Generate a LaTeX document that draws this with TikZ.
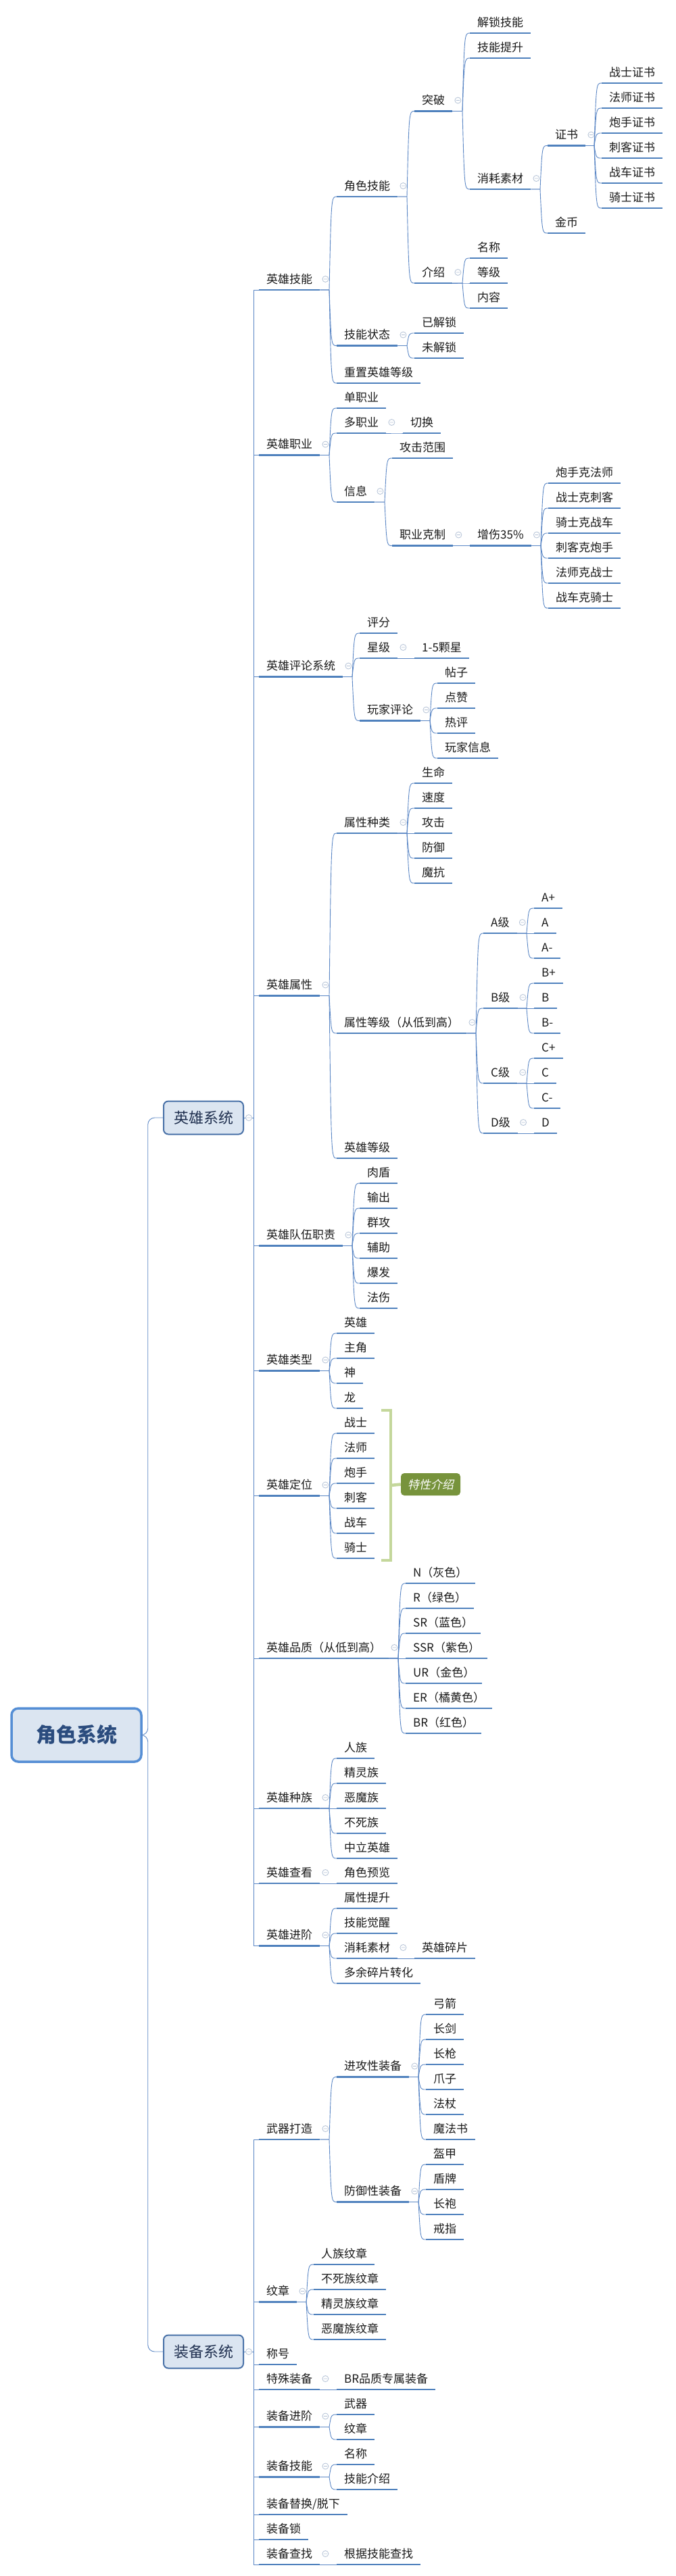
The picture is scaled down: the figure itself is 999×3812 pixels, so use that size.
\documentclass[tikz,border=0pt]{standalone}
\usepackage{fontspec}
\setmainfont{Noto Sans CJK SC}
\newfontfamily\itcjk[FakeSlant=0.2]{Noto Sans CJK SC}
\usetikzlibrary{calc}
\definecolor{ulc}{HTML}{4F81BD}
\definecolor{cnc}{HTML}{5B87C5}
\definecolor{boxfill}{HTML}{DBE5F1}
\definecolor{rootdraw}{HTML}{558ED5}
\definecolor{l1draw}{HTML}{4A72A8}
\definecolor{roottext}{HTML}{2B4C7E}
\definecolor{l1text}{HTML}{1F2F4F}
\definecolor{tgc}{HTML}{B4C2D6}
\definecolor{brkc}{HTML}{C4D79B}
\definecolor{sumfill}{HTML}{77933C}
\definecolor{txt}{HTML}{1A1A1A}
\newcommand\fs{\fontsize{17pt}{20pt}\selectfont}
\tikzset{
  nd/.style={anchor=south west, inner xsep=11pt, inner ysep=5.5pt, text height=13pt, text depth=4pt, font=\fs, text=txt},
  ul/.style={draw=ulc, line width=2.6pt},
  cn/.style={draw=cnc, line width=0.9pt},
  tgs/.style={draw=tgc, line width=0.8pt, fill=white},
  rootbox/.style={draw=rootdraw, line width=3.5pt, fill=boxfill, rounded corners=10pt, minimum width=192pt, minimum height=79pt, inner sep=0pt, font=\fontsize{30pt}{34pt}\selectfont\bfseries, text=roottext},
  l1box/.style={draw=l1draw, line width=2pt, fill=boxfill, rounded corners=7pt, minimum width=118pt, minimum height=49pt, inner sep=0pt, font=\fontsize{22pt}{26pt}\selectfont, text=l1text},
  brk/.style={draw=brkc, line width=4.5pt},
  sumbox/.style={fill=sumfill, rounded corners=5pt, minimum width=88pt, minimum height=33pt, inner sep=0pt, font=\itcjk\fs, text=white}
}
\newcommand\N[4]{\node[nd] (#1) at (#2,#3) {#4}; \draw[ul] (#1.south west) -- (#1.south east);}
\newcommand\tg[1]{\draw[tgs] ($(#1.south east)+(8,-16)$) circle[radius=4.5pt] +(-2.5,0) -- +(2.5,0);}
\newcommand\C[2]{\foreach \ch in {#2}{\draw[cn] (#1.south east) -- ($(#1.south east -| \ch.south west)+(-11,0)$) .. controls ($(\ch.south west)+(-8,0)$) and ($(\ch.south west)+(-8,0)$) .. (\ch.south west);}\tg{#1}}
\newcommand\E[2]{\foreach \ch in {#2}{\draw[cn] (#1.east) -- ++(14,0) |- (\ch.south west);}}
\begin{document}
\begin{tikzpicture}[x=1pt,y=-1pt]
\fill[white] (0,0) rectangle (999,3812);
\useasboundingbox (0,0) rectangle (999,3812);

% root and level 1
\node[rootbox] (root) at (113,2567.5) {角色系统};
\node[l1box] (hero) at (301,1654) {英雄系统};
\node[l1box] (equip) at (301,3480) {装备系统};

% ===== 英雄系统 =====
\N{a1}{383}{429}{英雄技能}
\N{a11}{498}{291}{角色技能}
\N{a111}{613}{164.5}{突破}
\N{a1111}{695}{49}{解锁技能}
\N{a1112}{695}{86}{技能提升}
\N{a1113}{695}{280}{消耗素材}
\N{zs}{810}{215.5}{证书}
\N{jb}{810}{345}{金币}
\N{zs1}{890}{123}{战士证书}
\N{zs2}{890}{160}{法师证书}
\N{zs3}{890}{197}{炮手证书}
\N{zs4}{890}{234}{刺客证书}
\N{zs5}{890}{271}{战车证书}
\N{zs6}{890}{308}{骑士证书}
\N{a112}{613}{419}{介绍}
\N{a1121}{695}{382}{名称}
\N{a1122}{695}{419}{等级}
\N{a1123}{695}{456}{内容}
\N{a12}{498}{511.5}{技能状态}
\N{a121}{613}{493}{已解锁}
\N{a122}{613}{530}{未解锁}
\N{a13}{498}{567}{重置英雄等级}

\N{b}{383}{673.5}{英雄职业}
\N{b1}{498}{604}{单职业}
\N{b2}{498}{641}{多职业}
\N{b21}{596}{641}{切换}
\N{b3}{498}{743}{信息}
\N{b31}{580}{678}{攻击范围}
\N{b32}{580}{807.5}{职业克制}
\N{b321}{695}{807.5}{增伤35\%}
\N{k1}{811}{715}{炮手克法师}
\N{k2}{811}{752}{战士克刺客}
\N{k3}{811}{789}{骑士克战车}
\N{k4}{811}{826}{刺客克炮手}
\N{k5}{811}{863}{法师克战士}
\N{k6}{811}{900}{战车克骑士}

\N{c}{383}{1001.5}{英雄评论系统}
\N{c1}{532}{937}{评分}
\N{c2}{532}{974}{星级}
\N{c21}{613}{974}{1-5颗星}
\N{c3}{532}{1066.5}{玩家评论}
\N{c31}{647}{1011}{帖子}
\N{c32}{647}{1048}{点赞}
\N{c33}{647}{1085}{热评}
\N{c34}{647}{1122}{玩家信息}

\N{d}{383}{1473.5}{英雄属性}
\N{d1}{498}{1233}{属性种类}
\N{d11}{613}{1159}{生命}
\N{d12}{613}{1196}{速度}
\N{d13}{613}{1233}{攻击}
\N{d14}{613}{1270}{防御}
\N{d15}{613}{1307}{魔抗}
\N{d2}{498}{1529}{属性等级（从低到高）}
\N{dA}{715}{1381}{A级}
\N{dB}{715}{1492}{B级}
\N{dC}{715}{1603}{C级}
\N{dD}{715}{1677}{D级}
\N{dA1}{790}{1344}{A+}
\N{dA2}{790}{1381}{A}
\N{dA3}{790}{1418}{A-}
\N{dB1}{790}{1455}{B+}
\N{dB2}{790}{1492}{B}
\N{dB3}{790}{1529}{B-}
\N{dC1}{790}{1566}{C+}
\N{dC2}{790}{1603}{C}
\N{dC3}{790}{1640}{C-}
\N{dD1}{790}{1677}{D}
\N{d3}{498}{1714}{英雄等级}

\N{f}{383}{1843.5}{英雄队伍职责}
\N{f1}{532}{1751}{肉盾}
\N{f2}{532}{1788}{输出}
\N{f3}{532}{1825}{群攻}
\N{f4}{532}{1862}{辅助}
\N{f5}{532}{1899}{爆发}
\N{f6}{532}{1936}{法伤}

\N{g}{383}{2028.5}{英雄类型}
\N{g1}{498}{1973}{英雄}
\N{g2}{498}{2010}{主角}
\N{g3}{498}{2047}{神}
\N{g4}{498}{2084}{龙}

\N{h}{383}{2213.5}{英雄定位}
\N{h1}{498}{2121}{战士}
\N{h2}{498}{2158}{法师}
\N{h3}{498}{2195}{炮手}
\N{h4}{498}{2232}{刺客}
\N{h5}{498}{2269}{战车}
\N{h6}{498}{2306}{骑士}

\N{q}{383}{2454}{英雄品质（从低到高）}
\N{q1}{600}{2343}{N（灰色）}
\N{q2}{600}{2380}{R（绿色）}
\N{q3}{600}{2417}{SR（蓝色）}
\N{q4}{600}{2454}{SSR（紫色）}
\N{q5}{600}{2491}{UR（金色）}
\N{q6}{600}{2528}{ER（橘黄色）}
\N{q7}{600}{2565}{BR（红色）}

\N{r}{383}{2676}{英雄种族}
\N{r1}{498}{2602}{人族}
\N{r2}{498}{2639}{精灵族}
\N{r3}{498}{2676}{恶魔族}
\N{r4}{498}{2713}{不死族}
\N{r5}{498}{2750}{中立英雄}

\N{s}{383}{2787}{英雄查看}
\N{s1}{498}{2787}{角色预览}

\N{t}{383}{2879.5}{英雄进阶}
\N{t1}{498}{2824}{属性提升}
\N{t2}{498}{2861}{技能觉醒}
\N{t3}{498}{2898}{消耗素材}
\N{t31}{613}{2898}{英雄碎片}
\N{t4}{498}{2935}{多余碎片转化}

% ===== 装备系统 =====
\N{u}{383}{3166}{武器打造}
\N{u1}{498}{3073.5}{进攻性装备}
\N{u11}{630}{2981}{弓箭}
\N{u12}{630}{3018}{长剑}
\N{u13}{630}{3055}{长枪}
\N{u14}{630}{3092}{爪子}
\N{u15}{630}{3129}{法杖}
\N{u16}{630}{3166}{魔法书}
\N{u2}{498}{3258.5}{防御性装备}
\N{u21}{630}{3203}{盔甲}
\N{u22}{630}{3240}{盾牌}
\N{u23}{630}{3277}{长袍}
\N{u24}{630}{3314}{戒指}

\N{v}{383}{3406.5}{纹章}
\N{v1}{464}{3351}{人族纹章}
\N{v2}{464}{3388}{不死族纹章}
\N{v3}{464}{3425}{精灵族纹章}
\N{v4}{464}{3462}{恶魔族纹章}

\N{w}{383}{3499}{称号}
\N{ww}{383}{3536}{特殊装备}
\N{ww1}{498}{3536}{BR品质专属装备}
\N{y1}{383}{3591.5}{装备进阶}
\N{y11}{498}{3573}{武器}
\N{y12}{498}{3610}{纹章}
\N{y2}{383}{3665.5}{装备技能}
\N{y21}{498}{3647}{名称}
\N{y22}{498}{3684}{技能介绍}
\N{y3}{383}{3721}{装备替换/脱下}
\N{y4}{383}{3758}{装备锁}
\N{y5}{383}{3795}{装备查找}
\N{y51}{498}{3795}{根据技能查找}

% summary bracket
\coordinate (bt) at (564,2087);
\coordinate (bb) at (564,2309);
\node[sumbox] (sum) at (637,2196.5) {特性介绍};
\draw[brk] (bt) -- ($(bt)+(14,0)$) -- ($(bb)+(14,0)$) -- (bb);
\draw[brk] ($(bt)!0.5!(bb)+(14,0)$) -- (sum.west);

% connectors
\draw[cn,rounded corners=10pt] (root.east) -- ++(8,0) |- (hero.west);
\draw[cn,rounded corners=10pt] (root.east) -- ++(8,0) |- (equip.west);
\E{hero}{a1,b,c,d,f,g,h,q,r,s,t}
\E{equip}{u,v,w,ww,y1,y2,y3,y4,y5}
\draw[tgs] ($(hero.east)+(7,0)$) circle[radius=4.5pt] +(-2.5,0) -- +(2.5,0);
\draw[tgs] ($(equip.east)+(7,0)$) circle[radius=4.5pt] +(-2.5,0) -- +(2.5,0);

\C{a1}{a11,a12,a13}
\C{a11}{a111,a112}
\C{a111}{a1111,a1112,a1113}
\C{a1113}{zs,jb}
\C{zs}{zs1,zs2,zs3,zs4,zs5,zs6}
\C{a112}{a1121,a1122,a1123}
\C{a12}{a121,a122}
\C{b}{b1,b2,b3}
\C{b2}{b21}
\C{b3}{b31,b32}
\C{b32}{b321}
\C{b321}{k1,k2,k3,k4,k5,k6}
\C{c}{c1,c2,c3}
\C{c2}{c21}
\C{c3}{c31,c32,c33,c34}
\C{d}{d1,d2,d3}
\C{d1}{d11,d12,d13,d14,d15}
\C{d2}{dA,dB,dC,dD}
\C{dA}{dA1,dA2,dA3}
\C{dB}{dB1,dB2,dB3}
\C{dC}{dC1,dC2,dC3}
\C{dD}{dD1}
\C{f}{f1,f2,f3,f4,f5,f6}
\C{g}{g1,g2,g3,g4}
\C{h}{h1,h2,h3,h4,h5,h6}
\C{q}{q1,q2,q3,q4,q5,q6,q7}
\C{r}{r1,r2,r3,r4,r5}
\C{s}{s1}
\C{t}{t1,t2,t3,t4}
\C{t3}{t31}
\C{u}{u1,u2}
\C{u1}{u11,u12,u13,u14,u15,u16}
\C{u2}{u21,u22,u23,u24}
\C{v}{v1,v2,v3,v4}
\C{ww}{ww1}
\C{y1}{y11,y12}
\C{y2}{y21,y22}
\C{y5}{y51}
\end{tikzpicture}
\end{document}
